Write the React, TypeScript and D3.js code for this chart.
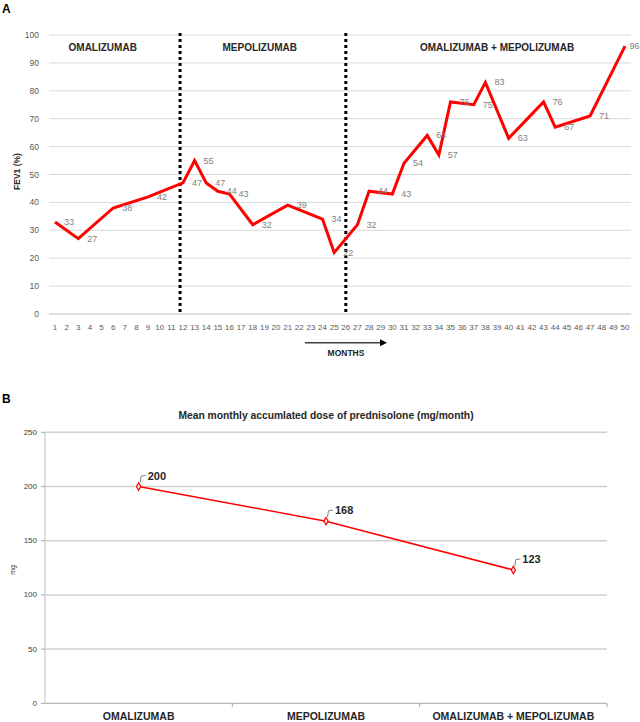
import React from 'react';
import * as d3 from 'd3';

// Panel A: FEV1 (%) by month
const fevMonths = [1, 3, 6, 9, 12, 13, 14, 15, 16, 18, 21, 24, 25, 27, 28, 30, 31, 33, 34, 35, 37, 38, 40, 43, 44, 47, 50];
const fevValues = [33, 27, 38, 42, 47, 55, 47, 44, 43, 32, 39, 34, 22, 32, 44, 43, 54, 64, 57, 76, 75, 83, 63, 76, 67, 71, 96];
const fevTicks = [0, 10, 20, 30, 40, 50, 60, 70, 80, 90, 100];
const monthTicks = d3.range(1, 51);
const phaseNames = ['OMALIZUMAB', 'MEPOLIZUMAB', 'OMALIZUMAB + MEPOLIZUMAB'];
const phaseLabelMonth = [5.1, 18.6, 39];
const phaseBoundaries = [11.75, 26];

// Panel B: mean monthly accumulated prednisolone dose
const doseCategories = ['OMALIZUMAB', 'MEPOLIZUMAB', 'OMALIZUMAB + MEPOLIZUMAB'];
const doseValues = [200, 168, 123];
const doseTicks = [0, 50, 100, 150, 200, 250];

const FONT = '"Liberation Sans", Arial, sans-serif';

const App: React.FC = () => {
  // ---- panel A scales
  const xA = d3.scaleLinear().domain([0.5, 50.5]).range([49.2, 630.8]);
  const yA = d3.scaleLinear().domain([0, 100]).range([314, 35]);
  const fevPts = fevMonths.map((m, i) => ({ m, v: fevValues[i] }));
  const fevLine = d3.line<{ m: number; v: number }>()
    .x(d => xA(d.m))
    .y(d => yA(d.v));

  // ---- panel B scales
  const xB = d3.scaleBand<string>().domain(doseCategories).range([45, 607]);
  const yB = d3.scaleLinear().domain([0, 250]).range([703.3, 432.3]);
  const dosePts = doseCategories.map((c, i) => ({ c, v: doseValues[i] }));
  const doseLine = d3.line<{ c: string; v: number }>()
    .x(d => (xB(d.c) as number) + xB.bandwidth() / 2)
    .y(d => yB(d.v));
  const diamond = d3.symbol().type(d3.symbolDiamond).size(16)();

  return (
    <svg width={640} height={722} style={{ position: 'absolute', left: 0, top: 0, background: '#fff' }} fontFamily={FONT}>
      {/* ================= A ================= */}
      <text x={2} y={13} fontSize={12} fontWeight="bold" fill="#000">A</text>

      {fevTicks.map(t => (
        <g key={'ga' + t}>
          <line x1={49} x2={631} y1={yA(t)} y2={yA(t)} stroke={t === 0 ? '#bfbfbf' : '#d9d9d9'} strokeWidth={1} />
          <text x={39} y={yA(t)} textAnchor="end" dominantBaseline="central" fontSize={8.5} fill="#595959">{t}</text>
        </g>
      ))}

      {monthTicks.map(m => (
        <text key={'mx' + m} x={xA(m)} y={327} textAnchor="middle" dominantBaseline="central" fontSize={8} fill="#595959">{m}</text>
      ))}

      <text transform={`translate(17,${yA(50) - 3}) rotate(-90)`} textAnchor="middle" dominantBaseline="central" fontSize={8.5} fontWeight="bold" fill="#262626">FEV1 (%)</text>

      {phaseBoundaries.map(b => (
        <line key={'pb' + b} x1={xA(b)} x2={xA(b)} y1={33} y2={314} stroke="#000" strokeWidth={3} strokeDasharray="3 3" />
      ))}

      {phaseNames.map((p, i) => (
        <text key={'pn' + i} x={xA(phaseLabelMonth[i])} y={47} textAnchor="middle" dominantBaseline="central" fontSize={10} fontWeight="bold" fill="#262626">{p}</text>
      ))}

      <path d={fevLine(fevPts) as string} fill="none" stroke="#ff0000" strokeWidth={3} strokeLinejoin="miter" />

      {fevPts.map(d => (
        <text key={'fl' + d.m} x={Math.min(xA(d.m) + 9, 629.5)} y={yA(d.v)} dominantBaseline="central" fontSize={9} fill="#7f7f7f">{d.v}</text>
      ))}

      {/* months arrow */}
      <line x1={305} x2={381} y1={342.7} y2={342.7} stroke="#404040" strokeWidth={1.5} />
      <path d="M380,339.2 L387,342.7 L380,346.2 Z" fill="#000" />
      <text x={346} y={353} textAnchor="middle" dominantBaseline="central" fontSize={8.5} fontWeight="bold" fill="#262626">MONTHS</text>

      {/* ================= B ================= */}
      <text x={2} y={403} fontSize={12} fontWeight="bold" fill="#000">B</text>
      <text x={326} y={415} textAnchor="middle" dominantBaseline="central" fontSize={10.3} fontWeight="bold" fill="#262626">
        Mean monthly accumlated dose of prednisolone (mg/month)
      </text>

      {doseTicks.map(t => (
        <g key={'gb' + t}>
          <line x1={45} x2={607} y1={yB(t)} y2={yB(t)} stroke={t === 0 ? '#a6a6a6' : '#d0d0d0'} strokeWidth={t === 0 ? 1 : 1.5} />
          <line x1={41} x2={45} y1={yB(t)} y2={yB(t)} stroke="#a6a6a6" strokeWidth={1} />
          <text x={37} y={yB(t)} textAnchor="end" dominantBaseline="central" fontSize={8} fill="#404040">{t}</text>
        </g>
      ))}
      <line x1={45} x2={45} y1={yB(250)} y2={yB(0)} stroke="#bfbfbf" strokeWidth={1} />
      {[...doseCategories.map(c => xB(c) as number), 607].slice(1).map((x, i) => (
        <line key={'xt' + i} x1={x} x2={x} y1={yB(0)} y2={yB(0) + 4} stroke="#a6a6a6" strokeWidth={1} />
      ))}

      <text transform={`translate(12,570) rotate(-90)`} textAnchor="middle" dominantBaseline="central" fontSize={7} fill="#404040">mg</text>

      {doseCategories.map(c => (
        <text key={'xc' + c} x={(xB(c) as number) + xB.bandwidth() / 2} y={715.5} textAnchor="middle" dominantBaseline="central" fontSize={10.5} fontWeight="bold" fill="#262626">{c}</text>
      ))}

      <path d={doseLine(dosePts) as string} fill="none" stroke="#ff0000" strokeWidth={1.5} />

      {dosePts.map(d => {
        const px = (xB(d.c) as number) + xB.bandwidth() / 2;
        const py = yB(d.v);
        return (
          <g key={'dp' + d.c}>
            <path d={diamond as string} transform={`translate(${px},${py})`} fill="#ffe0e0" stroke="#ff0000" strokeWidth={1.2} />
            <path d={`M${px + 1.5},${py - 4} L${px + 2.5},${py - 10.5} L${px + 7},${py - 11}`} fill="none" stroke="#808080" strokeWidth={1} />
            <text x={px + 9} y={py - 11} dominantBaseline="central" fontSize={11} fontWeight="bold" fill="#262626">{d.v}</text>
          </g>
        );
      })}
    </svg>
  );
};

export default App;
